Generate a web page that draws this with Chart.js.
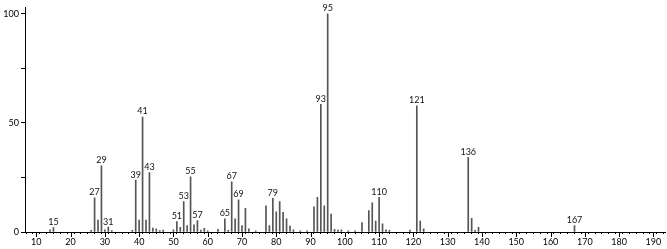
<!DOCTYPE html>
<html><head><meta charset="utf-8">
<script src="https://cdn.jsdelivr.net/npm/chart.js@4/dist/chart.umd.min.js"></script>
<style>html,body{margin:0;padding:0;background:#fff;overflow:hidden}</style>
</head><body>
<canvas id="c" width="667" height="249"></canvas>
<script>
const mz = [14,15,26,27,28,29,30,31,32,38,39,40,41,42,43,44,45,46,47,50,51,52,53,54,55,56,57,58,59,60,63,65,66,67,68,69,70,71,72,74,77,78,79,80,81,82,83,84,85,87,89,91,92,93,94,95,96,97,98,99,101,103,105,107,108,109,110,111,112,113,119,121,122,123,136,137,138,139,167];
const intensity = [1.0,2.0,0.8,15.7,5.5,30.4,1.0,2.2,0.6,0.8,23.8,5.5,52.7,5.5,27.2,1.8,1.5,0.7,0.9,1.0,4.8,2.1,13.9,3.0,25.3,3.3,5.2,0.9,1.7,0.5,1.2,6.0,0.8,23.0,6.0,14.7,2.9,10.8,1.4,0.5,12.0,3.0,15.4,9.3,13.9,9.0,6.0,2.7,1.0,0.5,0.5,11.6,15.9,58.6,12.0,100,8.2,1.2,0.9,1.0,0.5,0.5,4.3,9.8,13.4,5.0,15.9,3.7,1.0,0.8,0.9,57.9,5.0,1.4,34.2,6.3,0.8,2.1,2.9];
const labeledPeaks = [15,27,29,31,39,41,43,51,53,55,57,65,67,69,79,93,95,110,121,136,167];
const xTickLabels = [10,20,30,40,50,60,70,80,90,100,110,120,130,140,150,160,170,180,190];
const xMinorTicks = [8,10,12,14,16,18,20,22,24,26,28,30,32,34,36,38,40,42,44,46,48,50,52,54,56,58,60,62,64,66,68,70,72,74,76,78,80,82,84,86,88,90,92,94,96,98,100,102,104,106,108,110,112,114,116,118,120,122,124,126,128,130,132,134,136,138,140,142,144,146,148,150,152,154,156,158,160,162,164,166,168,170,172,174,176,178,180,182,184,186,188,190,192];
const yTicks = [0,25,50,75,100];
const yTickLabels = [0,50,100];

const FONT = 'Lato';

const extrasPlugin = {
  id: 'extras',
  afterDatasetsDraw(chart) {
    const ctx = chart.ctx, xs = chart.scales.x, ys = chart.scales.y;
    ctx.save();
    ctx.font = '9px ' + FONT;
    ctx.fillStyle = '#111';
    ctx.textAlign = 'center';
    ctx.textBaseline = 'bottom';
    labeledPeaks.forEach(m => {
      const i = mz.indexOf(m);
      if (i < 0) return;
      ctx.fillText(String(m), xs.getPixelForValue(m), ys.getPixelForValue(intensity[i]) - 1);
    });
    ctx.strokeStyle = '#000';
    ctx.lineWidth = 1;
    const base = ys.getPixelForValue(0);
    xTickLabels.forEach(v => {
      const px = Math.round(xs.getPixelForValue(v)) + 0.5;
      ctx.beginPath(); ctx.moveTo(px, base + 1); ctx.lineTo(px, base + 5); ctx.stroke();
    });
    ctx.restore();
  }
};

new Chart(document.getElementById('c'), {
  type: 'bar',
  data: {
    datasets: [{
      data: mz.map((m, i) => ({ x: m, y: intensity[i] })),
      backgroundColor: '#555',
      borderWidth: 0,
      barThickness: 1,
      grouped: false
    }]
  },
  options: {
    responsive: false,
    animation: false,
    devicePixelRatio: 1,
    layout: { padding: { top: 7, right: 2, left: 0, bottom: 0 } },
    plugins: { legend: { display: false }, tooltip: { enabled: false } },
    scales: {
      x: {
        type: 'linear',
        min: 6.7, max: 193.4,
        offset: false,
        afterFit: s => { s.height = 17; },
        afterBuildTicks: s => { s.ticks = xMinorTicks.map(v => ({ value: v })); },
        ticks: {
          autoSkip: false, maxRotation: 0, padding: 3,
          color: '#000', font: { family: FONT, size: 9 },
          callback: v => xTickLabels.includes(v) ? String(v) : ''
        },
        grid: { drawOnChartArea: false, drawTicks: true, tickLength: 2, tickColor: '#000' },
        border: { display: true, color: '#000', width: 1 }
      },
      y: {
        min: 0, max: 103,
        afterFit: s => { s.width = 25; },
        afterBuildTicks: s => { s.ticks = yTicks.map(v => ({ value: v })); },
        ticks: {
          autoSkip: false, padding: 2,
          color: '#000', font: { family: FONT, size: 9 },
          callback: v => yTickLabels.includes(v) ? String(v) : ''
        },
        grid: { drawOnChartArea: false, drawTicks: true, tickLength: 4, tickColor: '#000' },
        border: { display: true, color: '#000', width: 1 }
      }
    }
  },
  plugins: [extrasPlugin]
});
</script>
</body></html>
